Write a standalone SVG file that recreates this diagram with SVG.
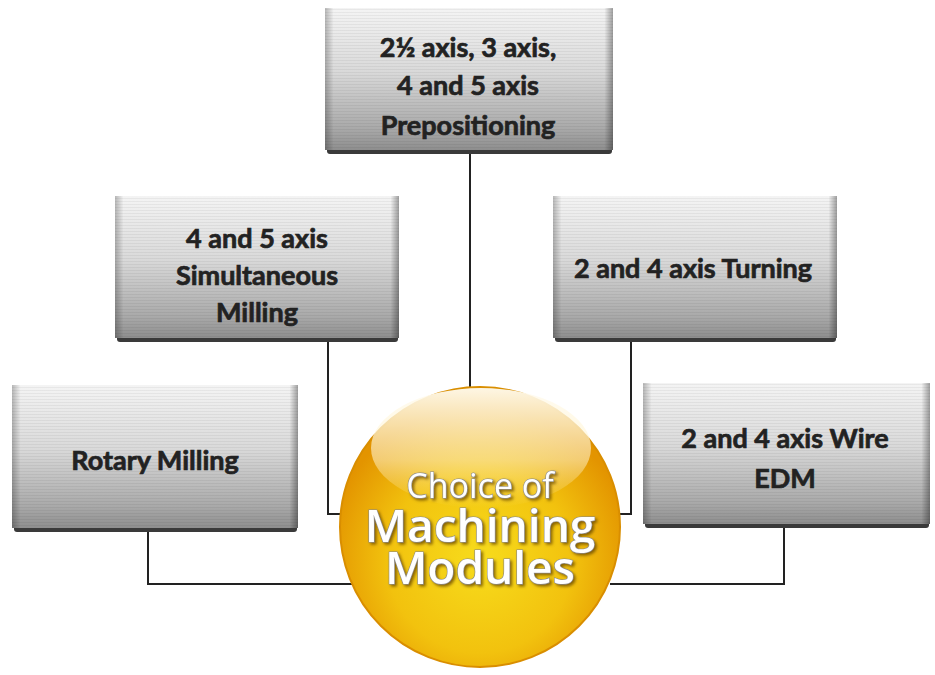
<svg xmlns="http://www.w3.org/2000/svg" width="935" height="675" viewBox="0 0 935 675">
<defs>
<linearGradient id="boxg" x1="0" y1="0" x2="0" y2="1">
<stop offset="0" stop-color="#f4f4f4"/>
<stop offset="0.45" stop-color="#d9d9d9"/>
<stop offset="0.85" stop-color="#a9a9a9"/>
<stop offset="1" stop-color="#8e8e8e"/>
</linearGradient>
<linearGradient id="sideg" x1="0" y1="0" x2="1" y2="0">
<stop offset="0" stop-color="#000" stop-opacity="0.25"/>
<stop offset="0.03" stop-color="#000" stop-opacity="0"/>
<stop offset="0.97" stop-color="#000" stop-opacity="0"/>
<stop offset="1" stop-color="#000" stop-opacity="0.35"/>
</linearGradient>
<pattern id="lines" width="4" height="3" patternUnits="userSpaceOnUse">
<rect width="4" height="1" fill="#000" fill-opacity="0.05"/>
</pattern>
<radialGradient id="ballg" cx="0.5" cy="0.62" r="0.55">
<stop offset="0" stop-color="#f7dc1c"/>
<stop offset="0.6" stop-color="#f2c20e"/>
<stop offset="1" stop-color="#e39400"/>
</radialGradient>
<linearGradient id="hl" x1="0" y1="0" x2="0" y2="1">
<stop offset="0" stop-color="#fffbf0" stop-opacity="0.95"/>
<stop offset="0.6" stop-color="#fff4d0" stop-opacity="0.55"/>
<stop offset="1" stop-color="#ffe9a0" stop-opacity="0"/>
</linearGradient>
<filter id="ts" x="-10%" y="-20%" width="120%" height="150%">
<feDropShadow dx="2" dy="2" stdDeviation="1.5" flood-color="#6a4a00" flood-opacity="0.8"/>
</filter>
</defs>
<style>
.bx{fill:url(#boxg)}
.bs{fill:url(#sideg)}
.bl{fill:url(#lines)}
.bb{fill:#3a3a3a}
.t{font-family:Lato,"Open Sans",sans-serif;font-weight:bold;font-size:27px;fill:#222;stroke:#222;stroke-width:0.7;text-anchor:middle}
.c{font-family:"Open Sans",Lato,sans-serif;fill:#fff;text-anchor:middle;stroke:#8a8a8a;stroke-width:1.2;paint-order:stroke;filter:url(#ts)}
.ln{fill:none;stroke:#222;stroke-width:2}
</style>
<g id="connectors">
<path class="ln" d="M470 152 V387"/>
<path class="ln" d="M328 340 V514 H343"/>
<path class="ln" d="M631 340 V514 H618"/>
<path class="ln" d="M148 530 V584 H352"/>
<path class="ln" d="M784 526 V584 H610"/>
</g>
<g id="n_top">
<rect class="bb" x="327" y="146" width="285" height="8" rx="3"/>
<rect class="bx" x="325" y="8" width="288" height="142"/>
<rect class="bl" x="325" y="8" width="288" height="142"/>
<rect class="bs" x="325" y="8" width="288" height="142"/>
<text class="t" x="468" y="57">2½ axis, 3 axis,</text>
<text class="t" x="468" y="95">4 and 5 axis</text>
<text class="t" x="468" y="135">Prepositioning</text>
</g>
<g id="n_sim">
<rect class="bb" x="117" y="334" width="281" height="8" rx="3"/>
<rect class="bx" x="115" y="196" width="284" height="142"/>
<rect class="bl" x="115" y="196" width="284" height="142"/>
<rect class="bs" x="115" y="196" width="284" height="142"/>
<text class="t" x="257" y="248">4 and 5 axis</text>
<text class="t" x="257" y="285">Simultaneous</text>
<text class="t" x="257" y="322">Milling</text>
</g>
<g id="n_turn">
<rect class="bb" x="555" y="334" width="281" height="8" rx="3"/>
<rect class="bx" x="553" y="196" width="284" height="142"/>
<rect class="bl" x="553" y="196" width="284" height="142"/>
<rect class="bs" x="553" y="196" width="284" height="142"/>
<text class="t" x="693" y="278">2 and 4 axis Turning</text>
</g>
<g id="n_rot">
<rect class="bb" x="14" y="524" width="283" height="8" rx="3"/>
<rect class="bx" x="12" y="385" width="286" height="143"/>
<rect class="bl" x="12" y="385" width="286" height="143"/>
<rect class="bs" x="12" y="385" width="286" height="143"/>
<text class="t" x="155" y="470">Rotary Milling</text>
</g>
<g id="n_edm">
<rect class="bb" x="645" y="520" width="284" height="8" rx="3"/>
<rect class="bx" x="643" y="383" width="287" height="141"/>
<rect class="bl" x="643" y="383" width="287" height="141"/>
<rect class="bs" x="643" y="383" width="287" height="141"/>
<text class="t" x="785" y="448">2 and 4 axis Wire</text>
<text class="t" x="785" y="488">EDM</text>
</g>
<g id="n_center">
<circle cx="480" cy="527" r="140" fill="url(#ballg)" stroke="#d98e00" stroke-width="2"/>
<ellipse cx="481" cy="448" rx="110" ry="60" fill="url(#hl)"/>
<text class="c"><tspan x="480" y="498" font-size="34">Choice of</tspan><tspan x="480" y="542" font-size="46" font-weight="600">Machining</tspan><tspan x="480" y="584" font-size="46" font-weight="600">Modules</tspan></text>
</g>
</svg>
